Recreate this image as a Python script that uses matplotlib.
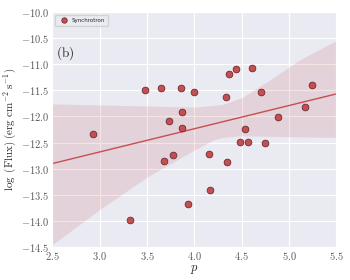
import numpy as np
import matplotlib
matplotlib.use("Agg")
from matplotlib import pyplot as plt
from matplotlib.ticker import FuncFormatter
import seaborn as sns

# index p vs log flux
p_index = [2.93, 3.32, 3.48, 3.65, 3.73, 3.68, 3.78, 3.86, 4.00, 3.87, 3.87,
           4.37, 4.44, 4.61, 4.33, 4.70, 5.24, 5.17, 4.88, 4.54, 4.48, 4.57,
           4.75, 4.16, 4.34, 4.17, 3.93]
log_flux = [-12.34, -13.97, -11.50, -11.46, -12.09, -12.86, -12.74, -11.45,
            -11.54, -11.91, -12.23, -11.19, -11.09, -11.07, -11.63, -11.53,
            -11.40, -11.82, -12.01, -12.24, -12.48, -12.48, -12.50, -12.71,
            -12.87, -13.40, -13.68]
# confidence band edges
band_p = [2.5, 3.0, 3.5, 4.0, 4.2, 4.3, 4.5, 4.8, 5.1, 5.5]
band_hi = [-11.76, -11.78, -11.80, -11.82, -11.79, -11.77, -11.64, -11.30,
           -10.93, -10.55]
band_lo = [-14.45, -13.78, -13.16, -12.64, -12.45, -12.40, -12.37, -12.38,
           -12.39, -12.40]
xticks = [2.5, 3.0, 3.5, 4.0, 4.5, 5.0, 5.5]
yticks = [-14.5, -14.0, -13.5, -13.0, -12.5, -12.0, -11.5, -11.0, -10.5, -10.0]

sns.set_style("darkgrid")
plt.rcParams["mathtext.fontset"] = "cm"

red = "#c44e52"
fig = plt.figure(figsize=(3.5, 2.8), dpi=100)
ax = fig.add_axes([0.1494, 0.1168, 0.8116, 0.8412])

ax.fill_between(band_p, band_lo, band_hi, color=red, alpha=0.15, lw=0)
slope, icpt = np.polyfit(p_index, log_flux, 1)
xs = np.array([2.5, 5.5])
ax.plot(xs, slope * xs + icpt, color=red, lw=1.0)
ax.scatter(p_index, log_flux, s=24, color=red, edgecolor="#5a2024",
           linewidths=0.5, zorder=3, label="Synchrotron")

ax.set_xlim(2.5, 5.5)
ax.set_ylim(-14.5, -10.0)
ax.set_xticks(xticks)
ax.set_yticks(yticks)
fmt = FuncFormatter(lambda v, pos: r"$%.1f$" % v)
ax.xaxis.set_major_formatter(fmt)
ax.yaxis.set_major_formatter(fmt)
ax.tick_params(labelsize=7.5, colors="0.35", length=0, pad=2)

ax.set_xlabel(r"$p$", fontsize=9, labelpad=1)
ax.set_ylabel(r"$\log\ (\mathrm{Flux})\ (\mathrm{erg\ cm^{-2}\ s^{-1}})$",
              fontsize=7.9, labelpad=1.5)
ax.text(2.54, -10.86, r"$\mathrm{(b)}$", fontsize=9.5, color="0.15")

ax.legend(loc="upper left", fontsize=4, frameon=True, markerscale=0.8,
          borderpad=0.6, handletextpad=0.4)

plt.savefig("out.png", dpi=100)
